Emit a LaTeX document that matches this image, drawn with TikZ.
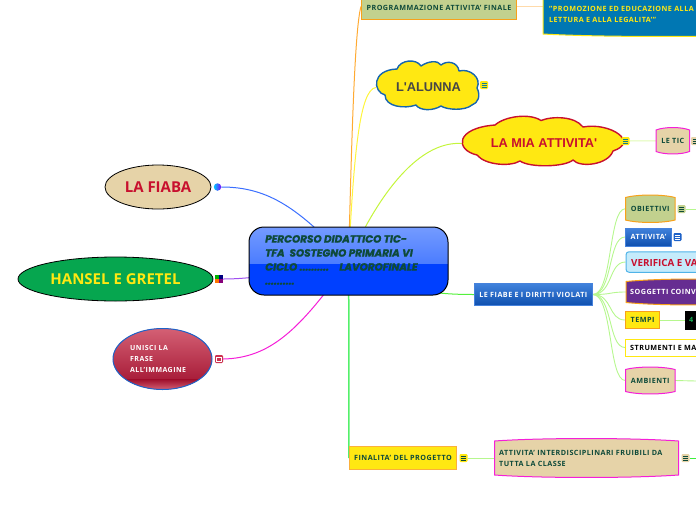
\documentclass[tikz,border=0pt]{standalone}
\usepackage{fontspec}
\usetikzlibrary{shapes.geometric}
\setmainfont[LetterSpace=6.5]{Open Sans}
\newfontfamily\bigfont{Open Sans}
\newfontfamily\arialfont{Liberation Sans}
\newfontfamily\titlefont[FakeBold=1.5]{Poppins}
\pgfdeclarelayer{bg}
\pgfsetlayers{bg,main}
\definecolor{dkgreen}{HTML}{0E4A3A}
\definecolor{crimson}{HTML}{C8102E}
\definecolor{tanfill}{HTML}{E6D3A8}
\definecolor{olive}{HTML}{C2D18E}
\definecolor{orangeb}{HTML}{F7A11A}
\definecolor{yel}{HTML}{FFE812}
\definecolor{mag}{HTML}{F51FD8}
\definecolor{lgreen}{HTML}{B6F78E}
\definecolor{teal2}{HTML}{0F7F8F}
\definecolor{seablue}{HTML}{0077B3}
\definecolor{royal}{HTML}{1E62C8}
\definecolor{corefill}{HTML}{0040FF}
\definecolor{coretop}{HTML}{749BFF}
\definecolor{coremid}{HTML}{2862FF}
\definecolor{cloudblue}{HTML}{1565B0}
\definecolor{cloudtext}{HTML}{464646}
\definecolor{hgreen}{HTML}{06A64F}
\definecolor{rosetop}{HTML}{D46074}
\definecolor{rosebot}{HTML}{A0102E}
\definecolor{rosei}{HTML}{CD3250}
\definecolor{btntop}{HTML}{4082DC}
\definecolor{btnbot}{HTML}{0F50AF}
\definecolor{btnline}{HTML}{4682DC}
\definecolor{skyline}{HTML}{4FB3E8}
\definecolor{skyfill}{HTML}{C5EBFB}
\definecolor{purp}{HTML}{662D91}
\definecolor{four}{HTML}{14AA50}
\definecolor{finline}{HTML}{FBB03B}
\definecolor{cOrange}{HTML}{FFAA32}
\definecolor{cYellow}{HTML}{FFF53C}
\definecolor{cLime}{HTML}{C4F53C}
\definecolor{cBlue}{HTML}{3B6FFF}
\definecolor{cPurple}{HTML}{A050F0}
\definecolor{cGreen}{HTML}{54F03C}
\definecolor{cMint}{HTML}{54F06A}
\definecolor{cPeach}{HTML}{FFDAAA}
\definecolor{cPale}{HTML}{E1FAB4}
\definecolor{cBright}{HTML}{3CF03C}
\tikzset{
  lab/.style={font=\bfseries\fontsize{7.2}{11}\selectfont,text=dkgreen,inner sep=0pt,align=left},
  wlab/.style={lab,text=white},
  ylab/.style={lab,text=yel},
  blab/.style={lab,text=black},
  boxnode/.style={line width=1pt,inner sep=0pt},
  btn/.style={boxnode,draw=btnline,top color=btntop,bottom color=btnbot},
  conn/.style={line width=.9pt,draw=lgreen},
  maincon/.style={line width=1pt,draw=#1},
  iconbox/.style={rounded corners=1.2pt,minimum width=8pt,minimum height=8pt,inner sep=0pt},
  bigell/.style={ellipse,draw=black,line width=.8pt,inner sep=0pt,font=\bigfont\bfseries\fontsize{15}{17}\selectfont},
  cloudline/.style={line width=1.4pt,fill=yel,line join=round},
  cloudlab/.style={inner sep=0pt,font=\arialfont\bfseries\fontsize{12.8}{15}\selectfont},
}
% name, x1,y1,x2,y2, fill, draw, text style, text
\newcommand{\bulge}[9]{%
  \path[fill=#6,draw=#7,line width=1pt]
   (#2,{#3+2.5}) .. controls ({#2+.25*(#4-#2)},{#3-.8}) and ({#2+.75*(#4-#2)},{#3-.8}) .. (#4,{#3+2.5})
   -- (#4,{#5-2.5}) .. controls ({#2+.75*(#4-#2)},{#5+.8}) and ({#2+.25*(#4-#2)},{#5+.8}) .. (#2,{#5-2.5}) -- cycle;
  \node[#8,minimum width={(#4-#2)*1pt},minimum height={(#5-#3)*1pt}] (#1) at ({(#2+#4)/2},{(#3+#5)/2}) {#9};}
% name, x, y, fill, line colour
\newcommand{\noteicon}[5]{%
  \node[iconbox,fill=#4] (#1) at (#2,#3) {};
  \draw[#5,line width=.7pt] ({#2-2.5},{#3-2})--({#2+2.5},{#3-2}) ({#2-2.5},#3)--({#2+2.5},#3) ({#2-2.5},{#3+2})--({#2+2.5},{#3+2});}
\begin{document}
\begin{tikzpicture}[x=1pt,y=-1pt]
\useasboundingbox (0,0) rectangle (696,520);
\clip (0,0) rectangle (696,520);

% central topic
\node[rounded corners=15pt,draw=black,line width=1pt,fill=corefill,
  minimum width=199pt,minimum height=68pt,inner sep=0pt,
  path picture={\shade[sharp corners,top color=coretop,bottom color=coremid]
    (path picture bounding box.north west) rectangle ([yshift=-36pt]path picture bounding box.north east);}]
  (center) at (348.5,261) {};
\node[anchor=north west,inner sep=0pt,align=left,text=dkgreen,
  font=\titlefont\bfseries\itshape\fontsize{10.4}{14}\selectfont] (title) at (265,235)
  {PERCORSO DIDATTICO TIC-\\TFA~ SOSTEGNO PRIMARIA VI\\CICLO ..........~~~ LAVOROFINALE\\..........};

% top branch
\node[boxnode,draw=orangeb,fill=olive,minimum width=155pt,minimum height=26pt] (prog) at (439,6.5) {};
\node[lab] (progt) at (439,8) {PROGRAMMAZIONE ATTIVITA' FINALE};
\bulge{blue}{543}{-30}{780}{36.5}{seablue}{yel}{inner sep=0pt}{}
\node[ylab,anchor=west] (blue1) at (549,9) {"PROMOZIONE ED EDUCAZIONE ALLA};
\node[ylab,anchor=west] (blue2) at (549,20) {LETTURA E ALLA LEGALITA'"};
\node[ylab,anchor=west] (blue0) at (634,-2.5) {DEL PROGETTO};

% clouds
\draw[cloudline,draw=cloudblue] (397,69)
  .. controls (400,60) and (416,58) .. (421,66)
  .. controls (428,61) and (438,60) .. (441,65)
  .. controls (447,60) and (458,62) .. (459,71)
  .. controls (470,68) and (482,78) .. (477,88)
  .. controls (481,96) and (478,103) .. (472,105)
  .. controls (465,111) and (447,110) .. (441,106)
  .. controls (433,111) and (420,111) .. (416,105)
  .. controls (405,109) and (385,107) .. (385,95)
  .. controls (373,92) and (371,70) .. (397,69) -- cycle;
\node[cloudlab,text=cloudtext,minimum width=105pt,minimum height=47pt] (alunna) at (428.5,87.5) {L'ALUNNA};
\noteicon{alunnai}{484}{85}{yel}{teal2}
\draw[cloudline,draw=crimson] (495,125)
  .. controls (505,116) and (530,113) .. (541,120.5)
  .. controls (552,116) and (575,116) .. (583,127)
  .. controls (610,122) and (640,142) .. (613,151)
  .. controls (608,165) and (580,168) .. (573,160)
  .. controls (565,167) and (530,168) .. (520,161)
  .. controls (510,167) and (485,165) .. (477,155)
  .. controls (455,150) and (455,128) .. (495,125) -- cycle;
\node[cloudlab,text=crimson,minimum width=164pt,minimum height=48pt] (mia) at (544,143.5) {LA MIA ATTIVITA'};
\noteicon{miai}{625.5}{141}{yel}{teal2}
\bulge{tic}{656}{127.5}{689.5}{154}{tanfill}{mag}{lab}{LE TIC}
\noteicon{tici}{695}{141}{tanfill}{dkgreen}

% left topics
\node[bigell,fill=tanfill,text=crimson,minimum width=106pt,minimum height=44pt] (fiaba) at (158,187) {LA FIABA};
\node[circle,inner sep=0pt,minimum size=7.5pt,left color=cyan!80!blue,right color=blue!50!magenta] (fiabai) at (217.5,187) {};
\node[bigell,fill=hgreen,text=yel,minimum width=195pt,minimum height=44pt] (hansel) at (115.5,279) {HANSEL E GRETEL};
\node[inner sep=0pt,minimum size=8pt] (hanseli) at (219,279) {};
\fill[green!70!black] (215,275) rectangle (219,279);
\fill[blue!50!black] (219,275) rectangle (223,279);
\fill[orange!90!red] (215,279) rectangle (219,283);
\fill[purple!70!blue] (219,279) rectangle (223,283);
\node[ellipse,draw=royal,line width=1pt,inner sep=0pt,minimum width=99pt,minimum height=61pt,fill=rosebot,
  path picture={
    \shade[top color=rosetop,bottom color=rosebot] (path picture bounding box.north west) rectangle ([yshift=10pt]path picture bounding box.south east);
    \shade[top color=rosebot,bottom color=rosetop] ([yshift=10pt]path picture bounding box.south west) rectangle (path picture bounding box.south east);}] (unisci) at (162.5,359) {};
\node[wlab,font=\bfseries\fontsize{7}{11}\selectfont,anchor=west] (unisct) at (130,359) {UNISCI LA\\FRASE\\ALL'IMMAGINE};
\node[iconbox,fill=rosei] (unisci2) at (219,359) {};
\draw[white,line width=.6pt] (216.5,357) rectangle (221.5,361.5);

% first child of central: fairy tales
\node[btn,minimum width=118pt,minimum height=22pt,wlab] (fiabe) at (533.3,294.5) {LE FIABE E I DIRITTI VIOLATI};

\bulge{obj}{625.5}{195}{675}{222.5}{olive}{orangeb}{lab}{OBIETTIVI}
\noteicon{obji}{681.5}{209}{olive}{dkgreen}
\node[btn,minimum width=46pt,minimum height=18pt,wlab] (att) at (648.5,237) {ATTIVITA'};
\noteicon{atti}{677.5}{237}{royal}{white}
\node[boxnode,rounded corners=3pt,draw=skyline,fill=skyfill,
  minimum width=110pt,minimum height=20.5pt] (ver) at (681,262) {};
\node[lab,text=crimson,font=\bigfont\bfseries\fontsize{9.8}{12}\selectfont,anchor=west] (vert) at (631,262.5) {VERIFICA E VALUTAZIONE};
\bulge{sog}{626}{279}{760}{305}{purp}{orangeb}{inner sep=0pt}{}
\node[wlab,anchor=west] (sogt) at (630,292) {SOGGETTI COINVOLTI};
\node[boxnode,draw=orangeb,fill=yel,minimum width=34pt,minimum height=17pt,lab] (tempi) at (642.5,320) {TEMPI};
\node[boxnode,draw=black,fill=black,minimum width=40pt,minimum height=18pt] (mesi) at (705,320) {};
\node[lab,text=four,anchor=west] (mesit) at (689,320) {4};
\node[boxnode,draw=yel,fill=white,minimum width=110pt,minimum height=17pt] (str) at (680.5,347.5) {};
\node[blab,anchor=west] (strt) at (630,347.5) {STRUMENTI E MATERIALI};
\bulge{amb}{625.5}{367}{675}{394}{tanfill}{mag}{lab}{AMBIENTI}

% finality
\node[boxnode,draw=finline,fill=yel,minimum width=107.5pt,minimum height=22.5pt,lab] (fin) at (403,458) {FINALITA' DEL PROGETTO};
\noteicon{fini}{463.5}{458}{yel}{dkgreen}
\bulge{inter}{494.5}{438.5}{678.5}{477.5}{tanfill}{mag}{inner sep=0pt}{}
\node[lab,anchor=west] (intert) at (499,458) {ATTIVITA' INTERDISCIPLINARI FRUIBILI DA\\TUTTA LA CLASSE};
\noteicon{interi}{685.5}{458}{tanfill}{dkgreen}

\coordinate (offA) at (696,209);
\coordinate (offB) at (696,381);
\coordinate (offC) at (696,458);

\begin{pgfonlayer}{bg}
\draw[maincon=cOrange] (center.center) .. controls (351,170) and (354,30) .. (prog.west);
\draw[maincon=cYellow] (center.center) .. controls (354,150) and (360,90) .. (alunna.west);
\draw[maincon=cLime] (center.center) .. controls (385,180) and (425,141) .. (mia.west);
\draw[maincon=cBlue] (center.center) .. controls (300,210) and (270,187) .. (fiabai.east);
\draw[maincon=cPurple] (center.center) .. controls (300,270) and (260,279) .. (hanseli.east);
\draw[maincon=mag] (center.center) .. controls (300,330) and (270,358) .. (unisci2.east);
\draw[maincon=cGreen] (center.center) .. controls (400,290) and (430,294.5) .. (fiabe.west);
\draw[maincon=cMint,line width=1.5pt] (center.center) .. controls (349,320) and (349,400) .. (fin.west);
\draw[maincon=cPeach] (prog.east) -- (blue.west |- prog.east);
\draw[maincon=cPale] (miai.east) -- (tic.west);
\draw[conn] (fini.east) -- (inter.west);
\draw[maincon=cBright] (interi.east) -- (offC);
\foreach \t in {obj,att,ver,sog,tempi,str,amb}{
  \draw[conn] (fiabe.east) .. controls +(20,0) and +(-17,0) .. (\t.west);}
\draw[conn] (obji.east) -- (offA);
\draw[conn] (amb.east) -- (offB);
\draw[conn] (tempi.east) -- (mesi.west);
\end{pgfonlayer}
\end{tikzpicture}
\end{document}
